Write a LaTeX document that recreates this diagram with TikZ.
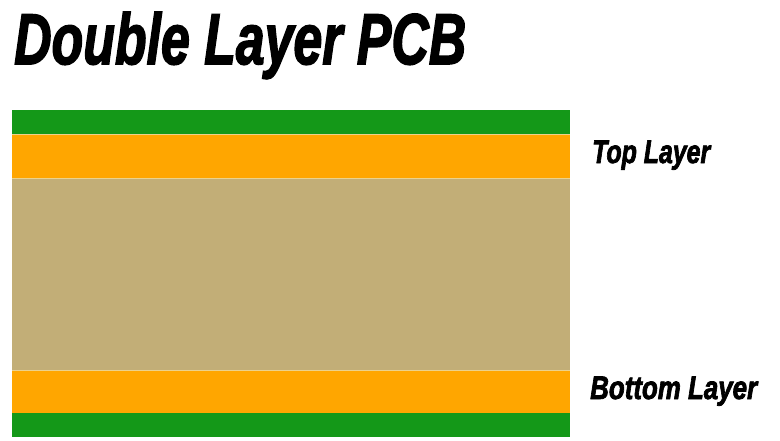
\documentclass[tikz,border=0pt]{standalone}
\usepackage{fontspec}
\setmainfont{Liberation Sans}
\newfontfamily\heavyfont{Liberation Sans Bold Italic}[FakeBold=2.5]
\usepackage{graphicx}
\definecolor{pcbgreen}{RGB}{20,152,24}
\definecolor{pcborange}{RGB}{255,166,0}
\definecolor{pcbtan}{RGB}{194,174,119}
\definecolor{pcbline}{RGB}{236,210,140}
\begin{document}
\begin{tikzpicture}[x=1pt,y=-1pt,
  lbl/.style={inner sep=0pt,anchor=base west,font=\heavyfont}]
\useasboundingbox[fill=white] (0,0) rectangle (780,440);
% layers
\fill[pcbline] (12,133) rectangle (570,413);
\fill[pcbgreen] (12,110) rectangle (570,133.5);
\fill[pcborange] (12,135) rectangle (570,177.5);
\fill[pcbtan] (12,179) rectangle (570,369.5);
\fill[pcborange] (12,371) rectangle (570,412.5);
\fill[pcbgreen] (12,413) rectangle (570,437);
% texts
\node[lbl] (title) at (14,64) {\resizebox{452pt}{52pt}{Double Layer PCB}};
\node[lbl] (top) at (592,163) {\resizebox{118pt}{22.5pt}{Top Layer}};
\node[lbl] (bottom) at (590,399) {\resizebox{167pt}{22.5pt}{Bottom Layer}};
\end{tikzpicture}
\end{document}
